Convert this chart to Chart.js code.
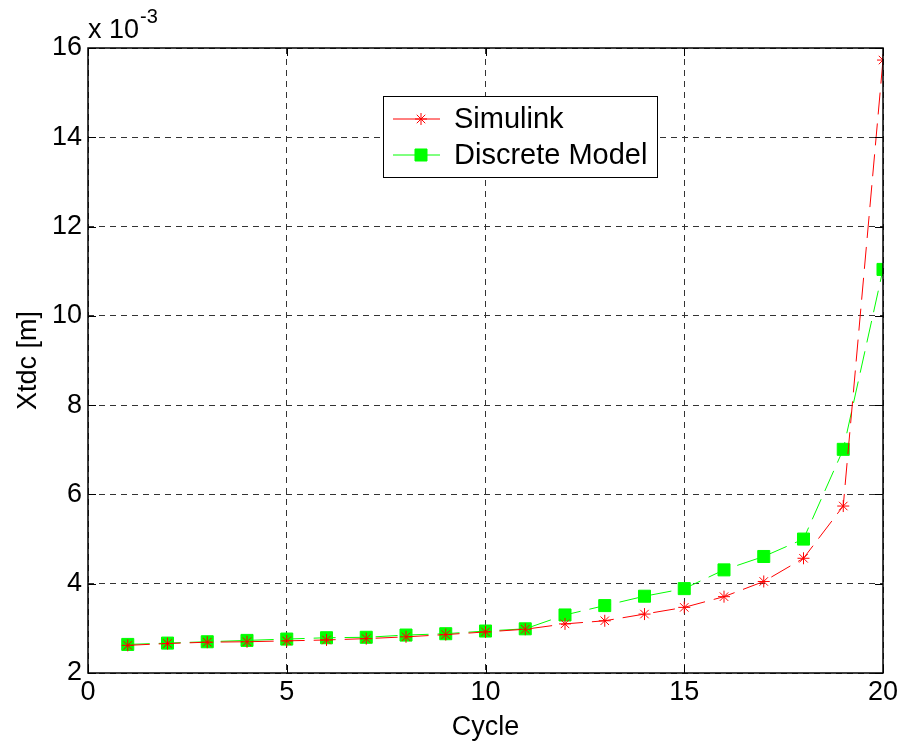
<!DOCTYPE html>
<html>
<head>
<meta charset="utf-8">
<script src="https://cdn.jsdelivr.net/npm/chart.js@4/dist/chart.umd.min.js"></script>
<style>
  html, body { margin: 0; padding: 0; background: #fff; }
  #wrap { width: 904px; height: 744px; position: relative; }
</style>
</head>
<body>
<div id="wrap"><canvas id="xtdcChart" width="904" height="744"></canvas></div>
<script>
// cycle numbers and Xtdc values (x 10^-3 m)
const cycles = [1, 2, 3, 4, 5, 6, 7, 8, 9, 10, 11, 12, 13, 14, 15, 16, 17, 18, 19, 20];
const simulink = [2.62, 2.66, 2.69, 2.70, 2.72, 2.74, 2.77, 2.81, 2.86, 2.92, 2.98, 3.10, 3.17, 3.32, 3.47, 3.71, 4.05, 4.57, 5.74, 15.73];
const discreteModel = [2.64, 2.67, 2.70, 2.73, 2.76, 2.79, 2.80, 2.85, 2.88, 2.94, 2.99, 3.30, 3.51, 3.72, 3.89, 4.31, 4.61, 5.00, 7.01, 11.04];
const xTicks = [0, 5, 10, 15, 20];
const yTicks = [2, 4, 6, 8, 10, 12, 14, 16];

const FONT = 'Liberation Sans, Arial, Helvetica, sans-serif';

function toPoints(ys) {
    return cycles.map((c, i) => ({ x: c, y: ys[i] }));
}

// box, inward ticks, exponent label and legend
const matlabFrame = {
    id: 'matlabFrame',
    afterDraw(chart) {
        const ctx = chart.ctx;
        const a = chart.chartArea;
        const xs = chart.scales.x, ys = chart.scales.y;
        ctx.save();
        ctx.strokeStyle = '#000';
        ctx.lineWidth = 1.5;
        ctx.setLineDash([]);
        ctx.strokeRect(a.left, a.top, a.right - a.left, a.bottom - a.top);
        ctx.lineWidth = 1;
        const tl = 8;
        ctx.beginPath();
        xTicks.forEach(v => {
            const px = Math.round(xs.getPixelForValue(v)) + 0.5;
            ctx.moveTo(px, a.bottom); ctx.lineTo(px, a.bottom - tl);
            ctx.moveTo(px, a.top); ctx.lineTo(px, a.top + tl);
        });
        yTicks.forEach(v => {
            const py = Math.round(ys.getPixelForValue(v)) + 0.5;
            ctx.moveTo(a.left, py); ctx.lineTo(a.left + tl, py);
            ctx.moveTo(a.right, py); ctx.lineTo(a.right - tl, py);
        });
        ctx.stroke();

        // exponent
        ctx.fillStyle = '#000';
        ctx.textBaseline = 'alphabetic';
        ctx.textAlign = 'left';
        ctx.font = '27px ' + FONT;
        ctx.fillText('x 10', 88, 38);
        const w = ctx.measureText('x 10').width;
        ctx.font = '20px ' + FONT;
        ctx.fillText('-3', 88 + w + 1, 23);

        // legend
        const lx = 383, ly = 96, lw = 274, lh = 81;
        ctx.fillStyle = '#fff';
        ctx.fillRect(lx, ly, lw, lh);
        ctx.strokeStyle = '#000';
        ctx.lineWidth = 1;
        ctx.strokeRect(lx + 0.5, ly + 0.5, lw, lh);
        chart.data.datasets.forEach((ds, i) => {
            const y = ly + 23 + i * 36;
            ctx.strokeStyle = ds.borderColor;
            ctx.fillStyle = ds.backgroundColor;
            ctx.lineWidth = 1;
            ctx.setLineDash([]);
            ctx.beginPath();
            ctx.moveTo(lx + 10, y); ctx.lineTo(lx + 57, y);
            ctx.stroke();
            Chart.helpers.drawPoint(ctx, {
                pointStyle: ds.pointStyle,
                radius: ds.pointRadius,
                borderWidth: 1
            }, lx + 38, y);
            ctx.fillStyle = '#000';
            ctx.font = '29px ' + FONT;
            ctx.textBaseline = 'middle';
            ctx.fillText(ds.label, lx + 71, y + 1);
        });
        ctx.restore();
    }
};

const ctx = document.getElementById('xtdcChart');
new Chart(ctx, {
    type: 'line',
    data: {
        datasets: [{
            label: 'Simulink',
            data: toPoints(simulink),
            borderColor: '#ff0000',
            backgroundColor: '#ff0000',
            pointBorderColor: '#ff0000',
            pointBackgroundColor: '#ff0000',
            borderWidth: 1,
            borderDash: [22, 9],
            pointStyle: 'star',
            pointRadius: 6,
            pointBorderWidth: 1,
            tension: 0
        }, {
            label: 'Discrete Model',
            data: toPoints(discreteModel),
            borderColor: '#00ff00',
            backgroundColor: '#00ff00',
            pointBorderColor: '#00ff00',
            pointBackgroundColor: '#00ff00',
            borderWidth: 1,
            borderDash: [22, 9],
            pointStyle: 'rect',
            pointRadius: 8.5,
            pointBorderWidth: 1,
            tension: 0
        }]
    },
    options: {
        responsive: false,
        animation: false,
        layout: { padding: { top: 48, right: 21, left: 12, bottom: 0 } },
        plugins: {
            legend: { display: false },
            tooltip: { enabled: false }
        },
        scales: {
            x: {
                type: 'linear',
                min: 0,
                max: 20,
                afterBuildTicks: s => { s.ticks = xTicks.map(v => ({ value: v })); },
                afterFit: s => { s.height = 744 - 673; },
                grid: { color: '#333', drawTicks: false, lineWidth: 1 },
                border: { display: false, dash: [6, 5] },
                ticks: { color: '#000', font: { family: FONT, size: 27 }, padding: 3 },
                title: { display: true, text: 'Cycle', color: '#000', font: { family: FONT, size: 27 }, padding: { top: 0, bottom: 0 } }
            },
            y: {
                type: 'linear',
                min: 2,
                max: 16,
                afterBuildTicks: s => { s.ticks = yTicks.map(v => ({ value: v })); },
                afterFit: s => { s.width = 88 - 12; },
                grid: { color: '#333', drawTicks: false, lineWidth: 1 },
                border: { display: false, dash: [6, 5] },
                ticks: { color: '#000', font: { family: FONT, size: 27 }, padding: 6 },
                title: { display: true, text: 'Xtdc [m]', color: '#000', font: { family: FONT, size: 27 }, padding: { top: 0, bottom: 0 } }
            }
        }
    },
    plugins: [matlabFrame]
});
</script>
</body>
</html>
